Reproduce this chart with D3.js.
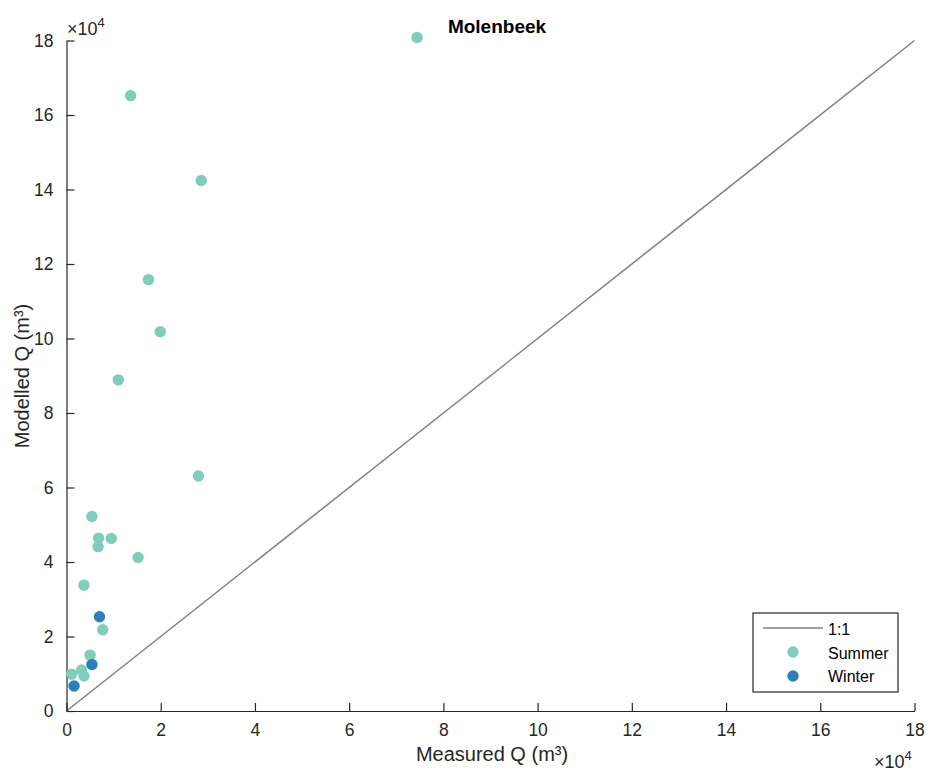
<!DOCTYPE html>
<html><head><meta charset="utf-8">
<script src="https://cdn.jsdelivr.net/npm/d3@7"></script>
<style>body{margin:0;background:#fff;} svg{display:block;font-family:"Liberation Sans",Arial,sans-serif;}</style>
</head><body>
<script>
// Data (m³)
const summerMeasured = [74400, 13600, 28600, 17400, 19900, 11000, 28000, 5400, 6800, 9500, 6700, 15200, 3700, 7700, 5000, 3200, 3700, 1100];
const summerModelled = [180800, 165200, 142400, 115800, 101800, 88900, 63100, 52200, 46400, 46300, 44100, 41200, 33800, 21800, 15000, 11000, 9400, 9900];
const winterMeasured = [7000, 5400, 1600];
const winterModelled = [25300, 12500, 6700];
const tickValues = [0, 2, 4, 6, 8, 10, 12, 14, 16, 18];
const legendLabels = ["1:1", "Summer", "Winter"];

const W = 927, H = 771;
const svg = d3.select("body").append("svg").attr("width", W).attr("height", H);
const x = d3.scaleLinear().domain([0, 180000]).range([66.5, 914.5]);
const y = d3.scaleLinear().domain([0, 180000]).range([711, 40.5]);
const axisColor = "#262626";
const summerColor = "#7fcdbb", winterColor = "#2c7fb8";
const R = 5.7;

// 1:1 line
svg.append("line").attr("x1", x(0)).attr("y1", y(0)).attr("x2", x(180000)).attr("y2", y(180000))
  .attr("stroke", "#808080").attr("stroke-width", 1.5);

// axes
const fmt = d => d3.format("d")(d / 10000);
const xAxis = d3.axisBottom(x).tickValues(tickValues.map(v => v * 10000)).tickFormat(fmt).tickSizeInner(-8).tickSizeOuter(0).tickPadding(13);
const yAxis = d3.axisLeft(y).tickValues(tickValues.map(v => v * 10000)).tickFormat(fmt).tickSizeInner(-8).tickSizeOuter(0).tickPadding(13);
const gx = svg.append("g").attr("transform", `translate(0,${y(0)})`).call(xAxis);
const gy = svg.append("g").attr("transform", `translate(${x(0)},0)`).call(yAxis);
[gx, gy].forEach(g => {
  g.select(".domain").attr("stroke", axisColor).attr("stroke-width", 1.2);
  g.selectAll(".tick line").attr("stroke", axisColor).attr("stroke-width", 1.2);
  g.selectAll(".tick text").attr("fill", axisColor).attr("font-size", 17.5).attr("font-family", "Liberation Sans, Arial, sans-serif");
});

// points
svg.append("g").selectAll("circle").data(summerMeasured.map((v, i) => [v, summerModelled[i]]))
  .join("circle").attr("cx", d => x(d[0])).attr("cy", d => y(d[1])).attr("r", R).attr("fill", summerColor);
svg.append("g").selectAll("circle").data(winterMeasured.map((v, i) => [v, winterModelled[i]]))
  .join("circle").attr("cx", d => x(d[0])).attr("cy", d => y(d[1])).attr("r", R).attr("fill", winterColor);

// exponent labels
function expo(xp, yp) {
  const t = svg.append("text").attr("x", xp).attr("y", yp).attr("fill", axisColor).attr("font-size", 18);
  t.append("tspan").text("×10");
  t.append("tspan").attr("dy", -8).attr("font-size", 13).text("4");
}
expo(67, 35);
expo(874, 768);

// axis labels
svg.append("text").attr("x", 492).attr("y", 761).attr("text-anchor", "middle").attr("font-size", 20).attr("fill", axisColor).text("Measured Q (m³)");
svg.append("text").attr("transform", "translate(29,376) rotate(-90)").attr("text-anchor", "middle").attr("font-size", 20).attr("fill", axisColor).text("Modelled Q (m³)");

// title
svg.append("text").attr("x", 497).attr("y", 33).attr("text-anchor", "middle").attr("font-size", 19).attr("font-weight", "bold").attr("fill", "#000").text("Molenbeek");

// legend
const lg = svg.append("g");
lg.append("rect").attr("x", 753).attr("y", 613).attr("width", 145).attr("height", 79).attr("fill", "#fff").attr("stroke", axisColor).attr("stroke-width", 1.2);
lg.append("line").attr("x1", 763).attr("x2", 823).attr("y1", 628).attr("y2", 628).attr("stroke", "#808080").attr("stroke-width", 1.5);
lg.append("circle").attr("cx", 793).attr("cy", 652).attr("r", R).attr("fill", summerColor);
lg.append("circle").attr("cx", 793).attr("cy", 676).attr("r", R).attr("fill", winterColor);
legendLabels.forEach((l, i) => {
  lg.append("text").attr("x", 828).attr("y", 635 + i * 23.5).attr("font-size", 16).attr("fill", "#000").text(l);
});
</script>
</body></html>
